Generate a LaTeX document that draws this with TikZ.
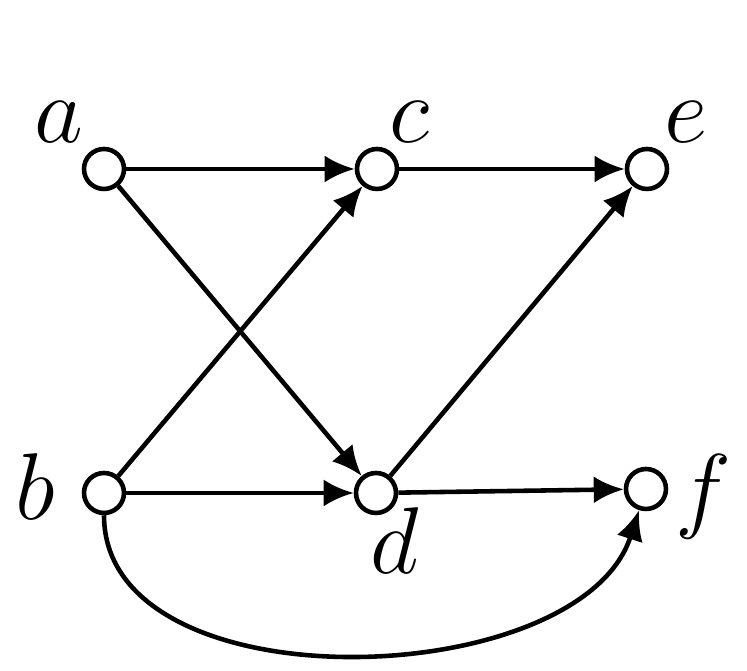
\RequirePackage{fix-cm}
\documentclass[tikz,border=0pt]{standalone}
\usetikzlibrary{positioning,arrows.meta}

\begin{document}
\begin{tikzpicture}[
    vert/.style={draw, circle, fill=white, line width=1.3pt, minimum size=0.4cm, inner sep=0pt},
    lbl/.style={inner sep=0pt, font=\fontsize{27}{32}\selectfont},
    edge/.style={line width=1.3pt, -{Latex[length=3mm,width=2.7mm]}},
    on grid]
    \useasboundingbox (0,0) rectangle (7.47,6.71);
    \coordinate (o) at (1.04,5.02);

    % vertices
    \node[vert] (a) at (o) {};
    \node[vert, right=2.73cm of a] (c) {};
    \node[vert, right=2.70cm of c] (e) {};
    \node[vert, below=3.24cm of a] (b) {};
    \node[vert, right=2.72cm of b] (d) {};
    \node[vert, right=2.70cm of d, yshift=0.04cm] (f) {};

    % labels
    \node[lbl, above left=0.47cm and 0.455cm of a] (la) {$a$};
    \node[lbl, above right=0.47cm and 0.32cm of c] (lc) {$c$};
    \node[lbl, above right=0.47cm and 0.39cm of e] (le) {$e$};
    \node[lbl, above left=0.06cm and 0.69cm of b] (lb) {$b$};
    \node[lbl, below right=0.48cm and 0.19cm of d] (ld) {$d$};
    \node[lbl, below right=0.08cm and 0.57cm of f] (lf) {$f$};

    % edges
    \draw[edge] (a) -- (c);
    \draw[edge] (a) -- (d);
    \draw[edge] (b) -- (c);
    \draw[edge] (b) -- (d);
    \draw[edge] (c) -- (e);
    \draw[edge] (d) -- (e);
    \draw[edge] (d) -- (f);
    \draw[edge] (b) to[out=-90, in=-108, looseness=0.92] (f);
\end{tikzpicture}
\end{document}
